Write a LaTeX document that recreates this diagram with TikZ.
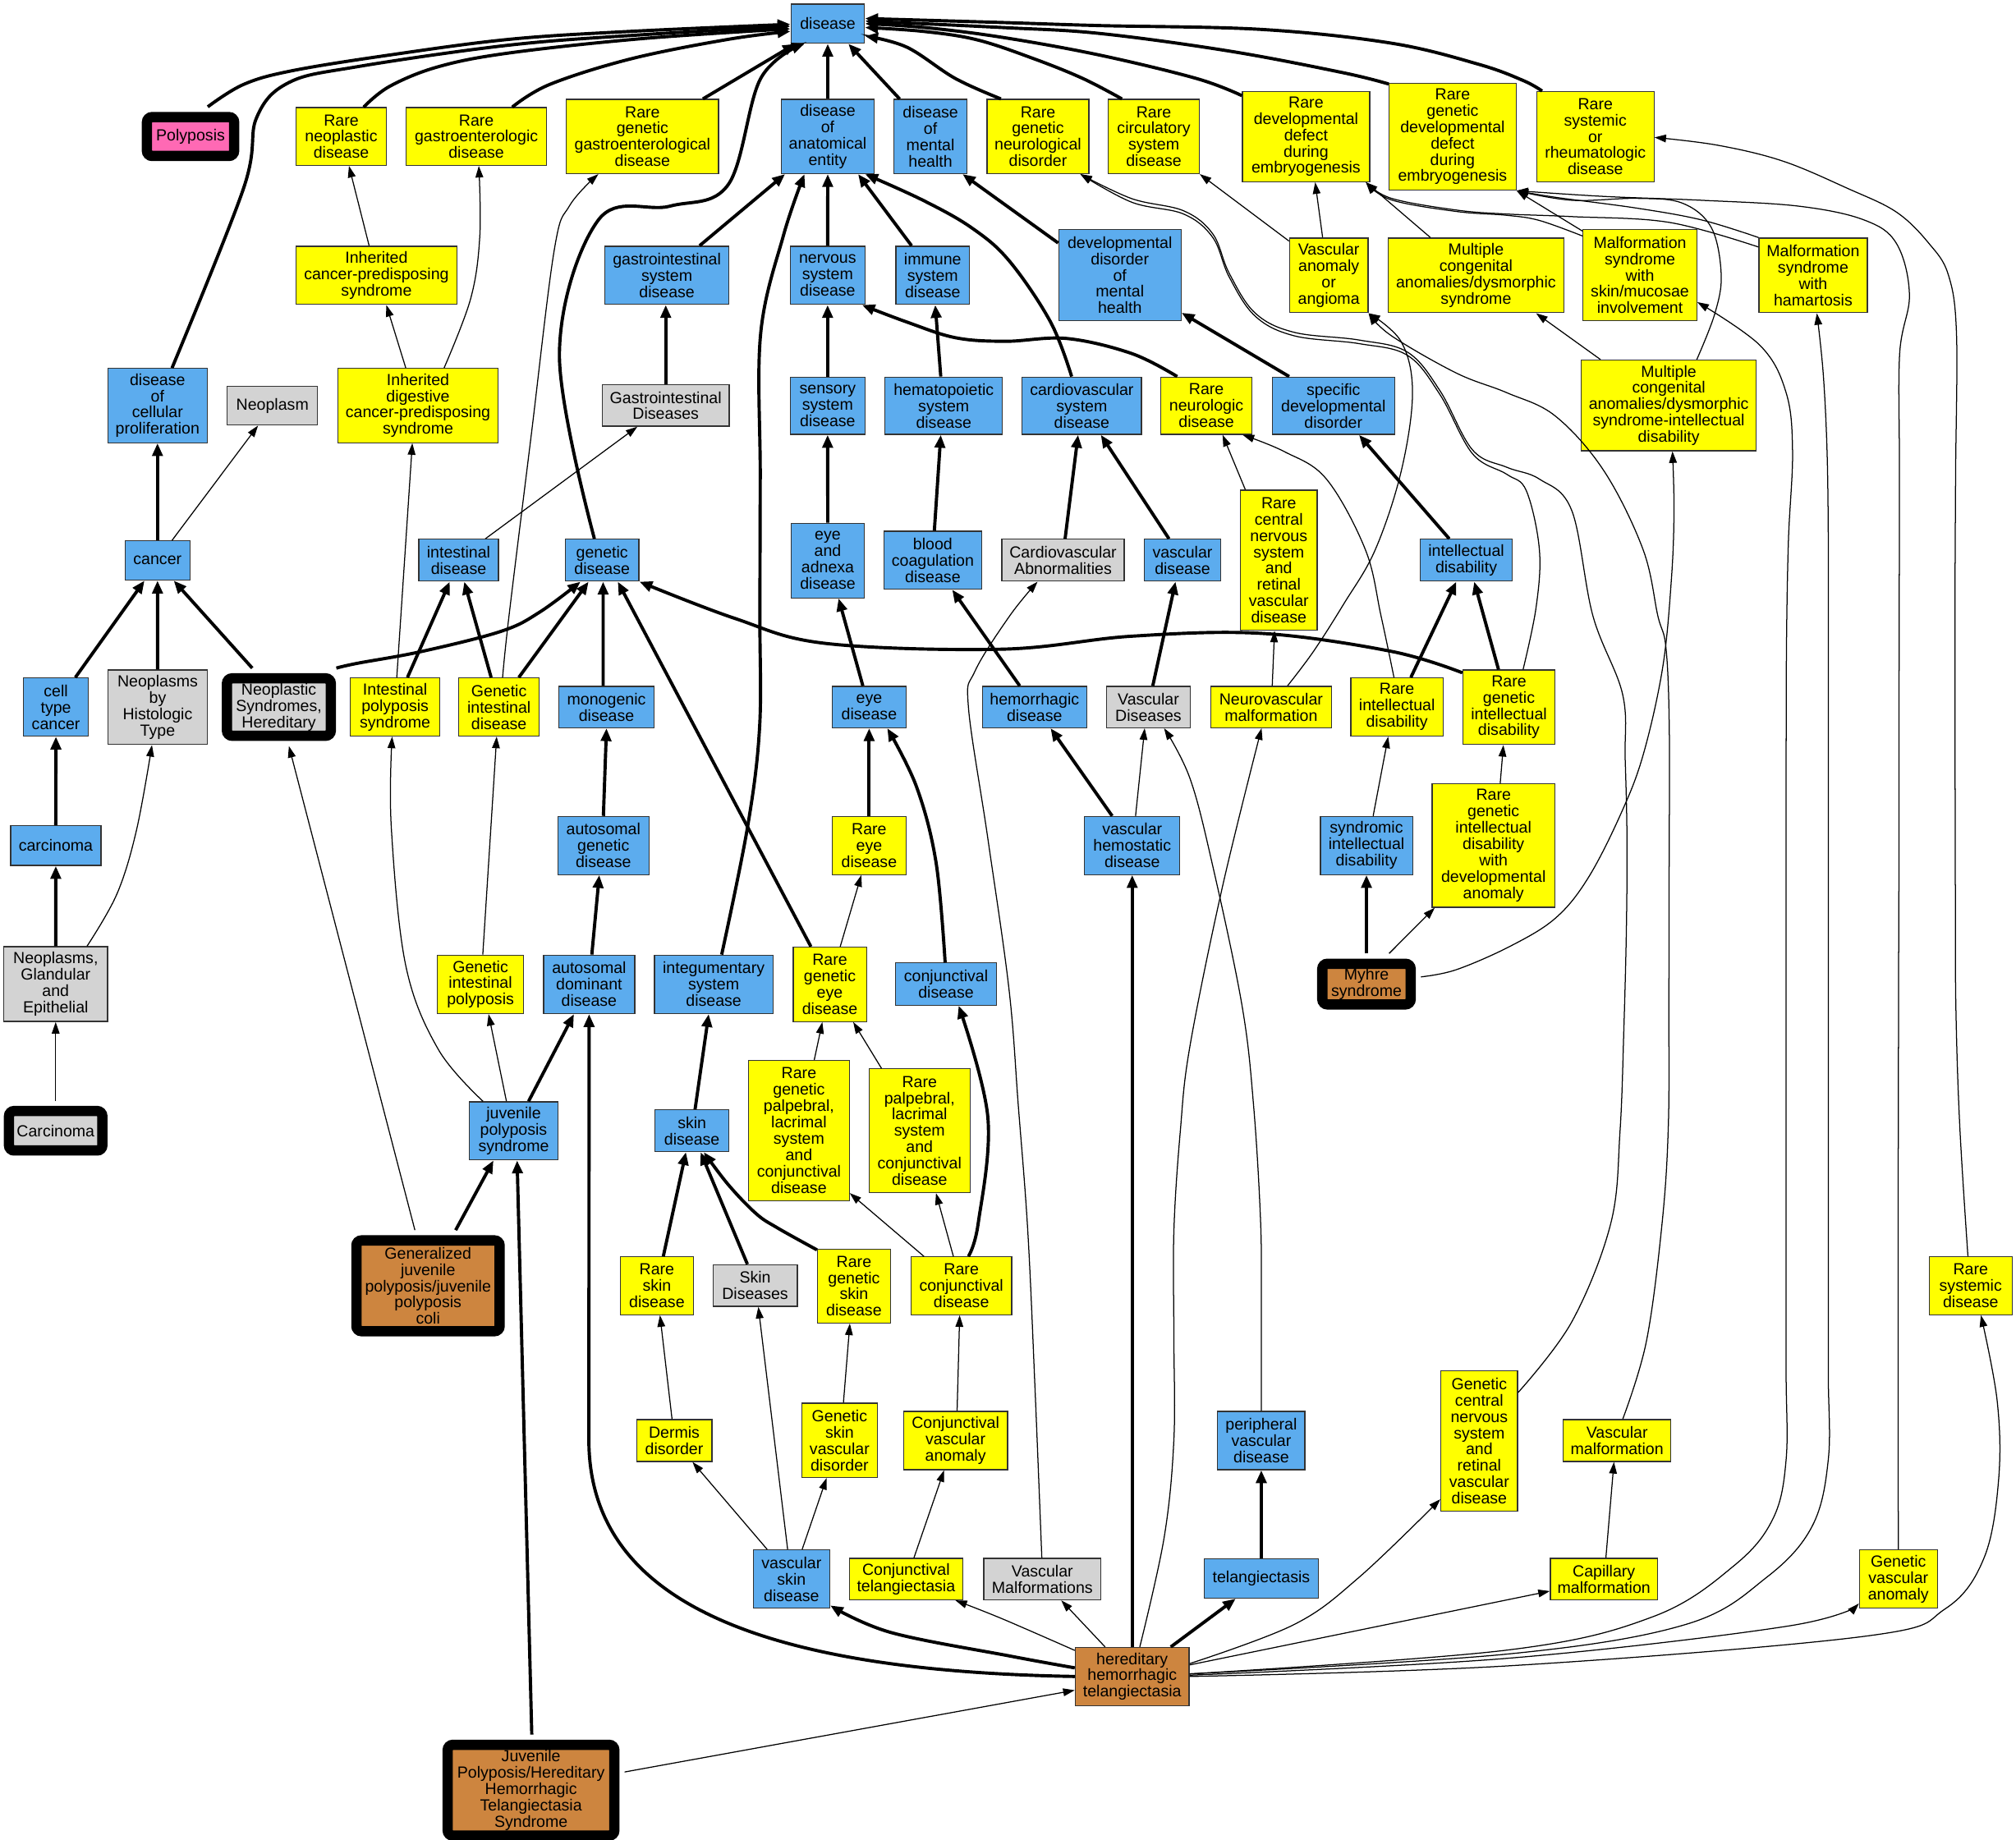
\documentclass[tikz,border=0pt]{standalone}
\usepackage{fontspec}
\setmainfont{Liberation Sans}
\usetikzlibrary{arrows.meta}
\definecolor{nodeblue}{RGB}{92,172,238}
\definecolor{nodeyellow}{RGB}{255,255,0}
\definecolor{nodegray}{RGB}{211,211,211}
\definecolor{nodepink}{RGB}{255,105,180}
\definecolor{nodebrown}{RGB}{205,133,63}
\newcommand\boxfont{\fontsize{12.5}{12.7}\selectfont}
% style, name, centre, width, height, label
\newcommand\boxnode[6]{\node[#1, minimum width=#4pt, minimum height=#5pt] (#2) at (#3) {#6};}
\tikzset{
  plainbox/.style={draw=black!80, line width=0.8pt, inner sep=0pt, align=center, font=\boxfont},
  bluebox/.style={plainbox, fill=nodeblue},
  yellowbox/.style={plainbox, fill=nodeyellow},
  graybox/.style={plainbox, fill=nodegray},
  brownbox/.style={plainbox, fill=nodebrown},
  framedbox/.style={draw=black, line width=8pt, rounded corners=4pt, inner sep=0pt, align=center, font=\boxfont},
  heavy/.style={line width=2.5pt, draw=black, -{Triangle[length=10pt,width=8pt]}},
  light/.style={line width=0.8pt, draw=black, -{Triangle[length=9pt,width=6pt]}}
}
\begin{document}
\begin{tikzpicture}[x=1pt,y=-1pt]
\fill[white] (0,0) rectangle (1568,1431);
\useasboundingbox (0,0) rectangle (1568,1431);

% ---------- blue ontology classes ----------
\boxnode{bluebox}{disease}{643.8,18.4}{57.3}{30.5}{disease}
\boxnode{bluebox}{dae}{643.8,106.2}{72.5}{57.7}{disease\\of\\anatomical\\entity}
\boxnode{bluebox}{dmh}{723.7,106.2}{57.1}{57.7}{disease\\of\\mental\\health}
\boxnode{bluebox}{gsd}{518.7,214.2}{96.5}{45.3}{gastrointestinal\\system\\disease}
\boxnode{bluebox}{nsd}{643.7,214.2}{58.1}{45.3}{nervous\\system\\disease}
\boxnode{bluebox}{isd}{725.4,214.2}{57.3}{45.3}{immune\\system\\disease}
\boxnode{bluebox}{ddmh}{871,214}{95.2}{70.6}{developmental\\disorder\\of\\mental\\health}
\boxnode{bluebox}{dcp}{122.5,315.5}{77.3}{57.7}{disease\\of\\cellular\\proliferation}
\boxnode{bluebox}{ssd}{643.7,315.6}{58.1}{44.6}{sensory\\system\\disease}
\boxnode{bluebox}{hsd}{734,315.6}{91.4}{44.6}{hematopoietic\\system\\disease}
\boxnode{bluebox}{cvsd}{841.4,315.6}{92.9}{44.6}{cardiovascular\\system\\disease}
\boxnode{bluebox}{sdd}{1037.1,315.6}{95.2}{44.6}{specific\\developmental\\disorder}
\boxnode{bluebox}{cancer}{122.5,436}{50.5}{30.5}{cancer}
\boxnode{bluebox}{intd}{356.7,435.8}{61.9}{32.6}{intestinal\\disease}
\boxnode{bluebox}{gend}{468.3,435.8}{57.3}{32.6}{genetic\\disease}
\boxnode{bluebox}{ead}{643.8,436}{57.3}{58.1}{eye\\and\\adnexa\\disease}
\boxnode{bluebox}{bcd}{725.5,435.8}{75.7}{45}{blood\\coagulation\\disease}
\boxnode{bluebox}{vasd}{919.7,435.8}{59.8}{32.6}{vascular\\disease}
\boxnode{bluebox}{intdis}{1140.4,435.8}{71.9}{32.6}{intellectual\\disability}
\boxnode{bluebox}{ctc}{43.5,550}{50.5}{45.2}{cell\\type\\cancer}
\boxnode{bluebox}{mono}{471.7,550}{74.3}{32.2}{monogenic\\disease}
\boxnode{bluebox}{eyed}{676,550}{57.5}{32.2}{eye\\disease}
\boxnode{bluebox}{hemd}{804.6,550}{81}{32.2}{hemorrhagic\\disease}
\boxnode{bluebox}{carc}{43.4,657.8}{70.2}{30.9}{carcinoma}
\boxnode{bluebox}{agd}{469.3,657.7}{70.9}{45.2}{autosomal\\genetic\\disease}
\boxnode{bluebox}{vhd}{880.6,657.7}{74}{45.2}{vascular\\hemostatic\\disease}
\boxnode{bluebox}{sid}{1062.8,657.7}{71.7}{45.2}{syndromic\\intellectual\\disability}
\boxnode{bluebox}{add}{458.2,765.7}{70.9}{45.5}{autosomal\\dominant\\disease}
\boxnode{bluebox}{integ}{555.1,765.7}{92.2}{45.5}{integumentary\\system\\disease}
\boxnode{bluebox}{conjd}{735.8,765.5}{78.8}{32.8}{conjunctival\\disease}
\boxnode{bluebox}{jps}{399.5,879.7}{69.1}{45.2}{juvenile\\polyposis\\syndrome}
\boxnode{bluebox}{skind}{538.2,879.6}{57.4}{32.5}{skin\\disease}
\boxnode{bluebox}{pvd}{981,1120.6}{67.9}{45.3}{peripheral\\vascular\\disease}
\boxnode{bluebox}{vsd}{615.6,1228.3}{59.6}{45.3}{vascular\\skin\\disease}
\boxnode{bluebox}{telang}{981,1227.9}{88.9}{30.6}{telangiectasis}

% ---------- yellow classes ----------
\boxnode{yellowbox}{rnd}{265.4,106.2}{70.2}{44.9}{Rare\\neoplastic\\disease}
\boxnode{yellowbox}{rgd}{370.5,106.2}{109.1}{44.9}{Rare\\gastroenterologic\\disease}
\boxnode{yellowbox}{rggd}{499.7,106.2}{118.2}{57.7}{Rare\\genetic\\gastroenterological\\disease}
\boxnode{yellowbox}{rgnd}{807.3,106.2}{79.3}{57.7}{Rare\\genetic\\neurological\\disorder}
\boxnode{yellowbox}{rcsd}{897.4,106.2}{70.7}{57.7}{Rare\\circulatory\\system\\disease}
\boxnode{yellowbox}{rddde}{1015.8,106.3}{99}{70.2}{Rare\\developmental\\defect\\during\\embryogenesis}
\boxnode{yellowbox}{rgddde}{1129.8,106.4}{98.7}{83.1}{Rare\\genetic\\developmental\\defect\\during\\embryogenesis}
\boxnode{yellowbox}{rsrd}{1240.8,106.3}{91.2}{70.2}{Rare\\systemic\\or\\rheumatologic\\disease}
\boxnode{yellowbox}{icps}{292.8,214.2}{125}{45.3}{Inherited\\cancer-predisposing\\syndrome}
\boxnode{yellowbox}{vaa}{1033.5,214.2}{61}{58.1}{Vascular\\anomaly\\or\\angioma}
\boxnode{yellowbox}{mcads}{1148,214.2}{136.5}{58.1}{Multiple\\congenital\\anomalies/dysmorphic\\syndrome}
\boxnode{yellowbox}{mssm}{1275.5,214}{88.4}{70.6}{Malformation\\syndrome\\with\\skin/mucosae\\involvement}
\boxnode{yellowbox}{msh}{1410.2,214.2}{84.3}{58.1}{Malformation\\syndrome\\with\\hamartosis}
\boxnode{yellowbox}{idcps}{325.1,315.5}{125}{57.7}{Inherited\\digestive\\cancer-predisposing\\syndrome}
\boxnode{yellowbox}{rneud}{938.3,315.6}{70.7}{44.6}{Rare\\neurologic\\disease}
\boxnode{yellowbox}{mcadsid}{1297.9,315.4}{136.1}{70.6}{Multiple\\congenital\\anomalies/dysmorphic\\syndrome-intellectual\\disability}
\boxnode{yellowbox}{rcns}{994.6,435.8}{59.6}{108.9}{Rare\\central\\nervous\\system\\and\\retinal\\vascular\\disease}
\boxnode{yellowbox}{ips}{307.3,550}{69.7}{45.2}{Intestinal\\polyposis\\syndrome}
\boxnode{yellowbox}{gid}{388.1,550}{62.6}{45.2}{Genetic\\intestinal\\disease}
\boxnode{yellowbox}{nvm}{988.6,550}{93.9}{32.2}{Neurovascular\\malformation}
\boxnode{yellowbox}{rid}{1086.5,550}{71.8}{45.2}{Rare\\intellectual\\disability}
\boxnode{yellowbox}{rgid}{1173.6,550.2}{71.6}{57.9}{Rare\\genetic\\intellectual\\disability}
\boxnode{yellowbox}{red}{676,657.7}{57.5}{45.2}{Rare\\eye\\disease}
\boxnode{yellowbox}{rgidda}{1161.6,657.8}{95.6}{95.9}{Rare\\genetic\\intellectual\\disability\\with\\developmental\\anomaly}
\boxnode{yellowbox}{gip}{373.7,765.7}{67.2}{45.5}{Genetic\\intestinal\\polyposis}
\boxnode{yellowbox}{rged}{645.4,765.7}{57}{57.9}{Rare\\genetic\\eye\\disease}
\boxnode{yellowbox}{rgplc}{621.4,879.4}{78.2}{109}{Rare\\genetic\\palpebral,\\lacrimal\\system\\and\\conjunctival\\disease}
\boxnode{yellowbox}{rplc}{715.2,879.6}{78.6}{96.3}{Rare\\palpebral,\\lacrimal\\system\\and\\conjunctival\\disease}
\boxnode{yellowbox}{rskin}{510.9,1000.2}{56.8}{45}{Rare\\skin\\disease}
\boxnode{yellowbox}{rgskin}{664.2,1000.4}{56.8}{57.5}{Rare\\genetic\\skin\\disease}
\boxnode{yellowbox}{rconj}{747.7,1000.2}{78.3}{45}{Rare\\conjunctival\\disease}
\boxnode{yellowbox}{rsd}{1532.7,1000.2}{64.4}{45}{Rare\\systemic\\disease}
\boxnode{yellowbox}{dermis}{524.4,1120.6}{58.6}{32.5}{Dermis\\disorder}
\boxnode{yellowbox}{gsvd}{653,1120.4}{59.1}{57.8}{Genetic\\skin\\vascular\\disorder}
\boxnode{yellowbox}{cva}{743.2,1120.6}{80.9}{45.3}{Conjunctival\\vascular\\anomaly}
\boxnode{yellowbox}{gcns}{1150.5,1120.9}{59.7}{108.9}{Genetic\\central\\nervous\\system\\and\\retinal\\vascular\\disease}
\boxnode{yellowbox}{vm}{1257.7,1120.6}{83.6}{32.5}{Vascular\\malformation}
\boxnode{yellowbox}{ctel}{704.7,1228.4}{88.4}{32.2}{Conjunctival\\telangiectasia}
\boxnode{yellowbox}{capm}{1247.5,1228.4}{83.4}{32.2}{Capillary\\malformation}
\boxnode{yellowbox}{gva}{1476.5,1228.3}{60.6}{45.3}{Genetic\\vascular\\anomaly}

% ---------- grey classes ----------
\boxnode{graybox}{neoplasm}{211.9,315.5}{70.2}{30.3}{Neoplasm}
\boxnode{graybox}{gidis}{517.8,315.5}{98.7}{32.1}{Gastrointestinal\\Diseases}
\boxnode{graybox}{cvab}{826.8,435.8}{95.2}{32.6}{Cardiovascular\\Abnormalities}
\boxnode{graybox}{nbht}{122.6,550.2}{77}{57.9}{Neoplasms\\by\\Histologic\\Type}
\boxnode{graybox}{vdis}{893.2,550}{65.4}{32.2}{Vascular\\Diseases}
\boxnode{graybox}{nge}{43.3,765.5}{80.6}{58.2}{Neoplasms,\\Glandular\\and\\Epithelial}
\boxnode{graybox}{skindis}{587.3,1000}{65.6}{32.4}{Skin\\Diseases}
\boxnode{graybox}{vmal}{810.7,1228.4}{91.1}{32.2}{Vascular\\Malformations}

% ---------- brown class ----------
\boxnode{brownbox}{hht}{880.6,1304.1}{88.6}{45.2}{hereditary\\hemorrhagic\\telangiectasia}

% ---------- heavily framed entries ----------
\boxnode{framedbox, fill=nodepink}{polyposis}{148.2,106.2}{67.8}{30.2}{Polyposis}
\boxnode{framedbox, fill=nodegray}{nsh}{216.9,550}{80.8}{44.6}{Neoplastic\\Syndromes,\\Hereditary}
\boxnode{framedbox, fill=nodegray}{carcin}{43.3,879.6}{72.6}{30.7}{Carcinoma}
\boxnode{framedbox, fill=nodebrown}{myhre}{1062.8,765.5}{68.7}{31.6}{Myhre\\syndrome}
\boxnode{framedbox, fill=nodebrown}{gjp}{332.9,1000.2}{111.4}{70.6}{Generalized\\juvenile\\polyposis/juvenile\\polyposis\\coli}
\boxnode{framedbox, fill=nodebrown}{jphht}{413,1392.6}{129.6}{70.6}{Juvenile\\Polyposis/Hereditary\\Hemorrhagic\\Telangiectasia\\Syndrome}

% ---------- edges into "disease" ----------
\draw[heavy] plot[smooth,tension=0.6] coordinates {([xshift=13.4pt,yshift=4pt]polyposis.north) (189.4,65.7) (227.3,55) (303,42.8) (396,30.6) (490.6,24.4) ([yshift=-0.5pt]disease.west)};
\draw[heavy] plot[smooth,tension=0.6] coordinates {([xshift=11.3pt]dcp.north) (189.4,146.6) (199.5,91.7) (224.7,64.2) (277.8,51.9) (396,35.1) (500,27) ([yshift=-2pt]disease.west)};
\draw[heavy] plot[smooth,tension=0.6] coordinates {([xshift=17.4pt]rnd.north) (303,67.2) (340.9,51.9) (396,41.2) (500,30) ([yshift=-4pt]disease.west)};
\draw[heavy] plot[smooth,tension=0.6] coordinates {([xshift=27.9pt]rgd.north) (427.5,65.7) (490.6,45.8) (566.4,30.6) ([yshift=-6pt]disease.west)};
\draw[heavy] ([xshift=47pt]rggd.north) -- ([xshift=4pt]disease.south west);
\draw[heavy] plot[smooth,tension=0.6] coordinates {([xshift=-6pt]gend.north) (435.1,275) (465.4,171.1) (520.9,160.4) (566.4,143.6) (591.6,61.1) ([xshift=-18pt]disease.south)};
\draw[heavy] (dae.north) -- (disease.south);
\draw[heavy] ([xshift=-24pt]dmh.north) -- ([xshift=16pt]disease.south);
\draw[heavy] plot[smooth,tension=0.6] coordinates {([xshift=-28.8pt]rgnd.north) (743.1,61.1) (705.3,36.7) ([yshift=-9.7pt]disease.east)};
\draw[heavy] plot[smooth,tension=0.6] coordinates {([xshift=-24.8pt]rcsd.north) (842.3,61.1) (804.4,45.8) (760,31) (717.9,24.4) ([yshift=-3pt]disease.east)};
\draw[heavy] plot[smooth,tension=0.6] coordinates {([yshift=-3.6pt]rddde.north west) (930.7,61.1) (855,42.8) (779.2,29) (720,21.5) (disease.east)};
\draw[heavy] plot[smooth,tension=0.6] coordinates {([yshift=-0.9pt]rgddde.north west) (1044.3,56.5) (955.9,39.7) (855,26) (779.2,21.4) ([yshift=2pt]disease.east)};
\draw[heavy] plot[smooth,tension=0.6] coordinates {([xshift=4.6pt]rsrd.north west) (1184.6,62.6) (1150,50) (1082.2,33.6) (981.2,22.9) (855,19.9) (779.2,17.5) ([yshift=4pt]disease.east)};

% ---------- anatomical / mental health branches ----------
\draw[heavy] ([xshift=25.4pt]gsd.north) -- ([xshift=-33.2pt]dae.south);
\draw[heavy] (nsd.north) -- (dae.south);
\draw[heavy] ([xshift=-16.4pt]isd.north) -- ([xshift=23.6pt]dae.south);
\draw[heavy] plot[smooth,tension=0.6] coordinates {([xshift=6.2pt]integ.north) (581.5,642.9) (590.8,565.5) (591,479) (591.3,370) (591.6,259.7) (609.3,183.3) ([xshift=-18.1pt]dae.south)};
\draw[heavy] plot[smooth,tension=0.6] coordinates {([xshift=-7.9pt]cvsd.north) (817.1,250.5) (785,203) (755.7,177.2) (717.9,155.8) ([xshift=-7.6pt]dae.south east)};
\draw[heavy] ([yshift=-10.7pt]ddmh.north west) -- ([xshift=-4pt]dmh.south east);
\draw[heavy] ([xshift=-34.4pt]sdd.north) -- ([yshift=6.4pt]ddmh.south east);

% ---------- neoplasm / gastro side ----------
\draw[light] ([xshift=-5.7pt]icps.north) -- ([xshift=6pt]rnd.south);
\draw[light] plot[smooth,tension=0.6] coordinates {([xshift=20.3pt]idcps.north) (366.1,232.2) (373.2,183.3) ([xshift=1.9pt]rgd.south)};
\draw[light] ([xshift=-9.5pt]idcps.north) -- ([xshift=7.7pt]icps.south);
\draw[light] ([xshift=1.3pt]ips.north) -- ([xshift=-4.4pt]idcps.south);
\draw[light] plot[smooth,tension=0.6] coordinates {([xshift=2.8pt]gid.north) (395.9,479) (413,340) (431,195) (443,160) ([xshift=-34.3pt]rggd.south)};
\draw[light] ([xshift=11.3pt]cancer.north) -- ([xshift=-11.2pt]neoplasm.south);
\draw[heavy] (cancer.north) -- (dcp.south);
\draw[heavy] (gidis.north) -- ([xshift=-0.9pt]gsd.south);
\draw[light] ([xshift=20.8pt]intd.north) -- ([xshift=-22.1pt]gidis.south);
\draw[heavy] ([xshift=15.1pt]ctc.north) -- ([xshift=-10.1pt]cancer.south);
\draw[heavy] (nbht.north) -- (cancer.south);
\draw[heavy] ([xshift=-20.7pt,yshift=4pt]nsh.north) -- ([xshift=12.6pt]cancer.south);
\draw[heavy] ([xshift=9.6pt]ips.north) -- ([xshift=-6.9pt]intd.south);
\draw[heavy] ([xshift=-6.1pt]gid.north) -- ([xshift=4.4pt]intd.south);

% ---------- into genetic disease ----------
\draw[heavy] plot[smooth,tension=0.6] coordinates {([xshift=0.3pt,yshift=4pt]nsh.north east) (277.8,516) (328.3,506.7) (390,491) (420,476) ([xshift=-16.8pt]gend.south)};
\draw[heavy] ([xshift=15.4pt]gid.north) -- ([xshift=-10.5pt]gend.south);
\draw[heavy] ([xshift=-2.6pt]mono.north) -- ([xshift=0.8pt]gend.south);
\draw[heavy] ([xshift=-14.7pt]rged.north) -- ([xshift=12.2pt]gend.south);
\draw[heavy] plot[smooth,tension=0.6] coordinates {([yshift=-2.5pt]rgid.north west) (1082.2,506.7) (981.2,492.7) (880.2,494.9) (779.2,505) (642.1,500.5) (571.4,481) (gend.south east)};
\draw[heavy] (agd.north) -- (mono.south);
\draw[heavy] ([xshift=2.1pt]add.north) -- ([xshift=-3.2pt]agd.south);
\draw[heavy] ([xshift=11.6pt]jps.north) -- ([xshift=-11.8pt]add.south);
\draw[heavy] (hht.west) .. controls (600,1300) and (458,1250) .. (458,1120) -- (add.south);

% ---------- polyposis chain ----------
\draw[light] ([xshift=-5.6pt]jps.north) -- ([xshift=6.3pt]gip.south);
\draw[light] plot[smooth,tension=0.6] coordinates {([xshift=-23.8pt]jps.north) (340.9,816.3) (315.6,751.2) (304.3,642.9) ([xshift=-2.3pt]ips.south)};
\draw[light] ([xshift=1.8pt]gip.north) -- ([xshift=-1.8pt]gid.south);
\draw[heavy] ([xshift=21.5pt,yshift=4pt]gjp.north) -- ([xshift=-15.7pt]jps.south);
\draw[heavy] ([xshift=0.6pt,yshift=4pt]jphht.north) -- ([xshift=2.7pt]jps.south);
\draw[light] ([xshift=-10.2pt,yshift=4pt]gjp.north) -- ([xshift=7.8pt,yshift=-4pt]nsh.south);

% ---------- carcinoma chain ----------
\draw[heavy] (nge.north) -- (carc.south);
\draw[heavy] (carc.north) -- (ctc.south);
\draw[light] plot[smooth,tension=0.6] coordinates {([xshift=24.4pt]nge.north) (90.9,695.5) (106.1,646) ([xshift=-4.4pt]nbht.south)};
\draw[light] ([yshift=4pt]carcin.north) -- (nge.south);

% ---------- eye branch ----------
\draw[heavy] (ssd.north) -- (nsd.south);
\draw[heavy] (ead.north) -- (ssd.south);
\draw[heavy] ([xshift=-4.9pt]eyed.north) -- ([xshift=8.4pt]ead.south);
\draw[heavy] (red.north) -- (eyed.south);
\draw[heavy] plot[smooth,tension=0.6] coordinates {([xshift=-0.7pt]conjd.north) (728,670.7) (712.8,611.9) ([xshift=14.1pt]eyed.south)};
\draw[light] ([xshift=8.1pt]rged.north) -- ([xshift=-6.1pt]red.south);
\draw[light] ([xshift=11.9pt]rgplc.north) -- ([xshift=-5.8pt]rged.south);
\draw[light] ([xshift=-29.6pt]rplc.north) -- ([xshift=18.2pt]rged.south);
\draw[heavy] plot[smooth,tension=0.6] coordinates {([xshift=5.5pt]rconj.north) (760.8,951.7) (768.3,868.9) ([xshift=9.8pt]conjd.south)};
\draw[light] ([xshift=-6.2pt]rconj.north) -- ([xshift=12.8pt]rplc.south);
\draw[light] ([xshift=-29.1pt]rconj.north) -- ([yshift=6.2pt]rgplc.south east);

% ---------- skin branch ----------
\draw[heavy] ([xshift=2.4pt]skind.north) -- ([xshift=-3.9pt]integ.south);
\draw[heavy] ([xshift=5pt]rskin.north) -- ([xshift=-4.7pt]skind.south);
\draw[heavy] ([xshift=-6pt]skindis.north) -- ([xshift=6.7pt]skind.south);
\draw[heavy] plot[smooth,tension=0.6] coordinates {([yshift=-1pt]rgskin.north west) (604.4,955) (588,944) (566.4,921.5) ([xshift=9.2pt]skind.south)};
\draw[light] ([xshift=-1.7pt]dermis.north) -- ([xshift=2.4pt]rskin.south);
\draw[light] ([xshift=-18.9pt]vsd.north) -- ([xshift=14.2pt]dermis.south);
\draw[light] ([xshift=-3pt]vsd.north) -- ([xshift=2.5pt]skindis.south);
\draw[light] ([xshift=8.3pt]vsd.north) -- ([xshift=-10.1pt]gsvd.south);
\draw[light] ([xshift=3pt]gsvd.north) -- ([xshift=-3.2pt]rgskin.south);
\draw[light] ([xshift=1.2pt]cva.north) -- ([xshift=-1.3pt]rconj.south);
\draw[light] ([xshift=6.1pt]ctel.north) -- ([xshift=-8.9pt]cva.south);

% ---------- blood / vascular branch ----------
\draw[heavy] ([xshift=-2.3pt]hsd.north) -- ([xshift=2pt]isd.south);
\draw[heavy] ([xshift=1.2pt]bcd.north) -- ([xshift=-2.3pt]hsd.south);
\draw[heavy] ([xshift=-11.5pt]hemd.north) -- ([xshift=15.1pt]bcd.south);
\draw[heavy] ([xshift=-15.6pt]vhd.north) -- ([xshift=12.5pt]hemd.south);
\draw[light] ([xshift=2.6pt]vhd.north) -- ([xshift=-2.9pt]vdis.south);
\draw[heavy] ([xshift=1.6pt]cvab.north) -- ([xshift=-2.9pt]cvsd.south);
\draw[heavy] ([xshift=-10.5pt]vasd.north) -- ([xshift=14.8pt]cvsd.south);
\draw[heavy] ([xshift=3.4pt]vdis.north) -- ([xshift=-5.4pt]vasd.south);
\draw[light] plot[smooth,tension=0.6] coordinates {([xshift=-0.4pt]vmal.north) (805,1080) (799.4,958) (792,860) (784.8,769.8) (768.3,652.2) (753.2,550) (758.3,522.1) (785.5,478.8) ([xshift=-19.8pt]cvab.south)};
\draw[light] plot[smooth,tension=0.6] coordinates {(pvd.north) (981,1020) (980.5,951.7) (975,860) (966,782.2) (943.3,673.9) (925.6,605.7) ([xshift=12.2pt]vdis.south)};
\draw[heavy] (telang.north) -- (pvd.south);

% ---------- neurological branch ----------
\draw[heavy] plot[smooth,tension=0.6] coordinates {([xshift=-22.7pt]rneud.north) (880.2,275) (829.7,263.3) (782,265.5) (743.1,262.7) (705.3,250.5) ([xshift=-2.7pt]nsd.south east)};
\draw[light] ([xshift=-26pt]rcns.north) -- ([xshift=12.6pt]rneud.south);
\draw[light] ([xshift=0.9pt]nvm.north) -- ([xshift=-3.3pt]rcns.south);
\draw[light] plot[smooth,tension=0.6] coordinates {([xshift=-2.3pt]rid.north) (1074.1,479) (1062,427.7) (1031.7,372.7) (998.9,351.3) ([xshift=-7.6pt]rneud.south east)};
\draw[light] plot[smooth,tension=0.6] coordinates {([xshift=12.8pt]nvm.north) (1021.6,506.7) (1045,470) (1069.6,427.7) (1089.8,366.6) (1098.6,305.5) (1089.8,265.8) (vaa.south east)};
\draw[light] plot[smooth,tension=0.6] coordinates {([xshift=11pt]rgid.north) (1194.7,472.6) (1197.3,427.7) (1187.2,381.9) (1172,369) (1145.3,353) (1120,307) (1094.8,276.5) (1057,267.3) (1006.5,261.2) (976.2,245.9) (956,215.4) (943.3,184.8) (920.6,166.5) (880.2,157.3) ([xshift=-7.1pt]rgnd.south east)};
\draw[light] plot[smooth,tension=0.6] coordinates {([yshift=37.7pt]gcns.east) (1222.5,1028.2) (1252.8,951.7) (1260,880) (1263,800) (1265,720) (1265.4,650) (1264,590) (1262,540) (1238.9,479) (1222.5,397.2) (1197.3,372.7) (1172,363.5) (1145.3,350) (1120,304) (1094.8,274) (1057,264.5) (1006.5,258.5) (976.2,243.5) (956,212.5) (943.3,182) (920.6,164) (880.2,154.5) ([xshift=-7.1pt]rgnd.south east)};

% ---------- intellectual disability branch ----------
\draw[heavy] ([xshift=10.8pt]rid.north) -- ([xshift=-7.7pt]intdis.south);
\draw[heavy] ([xshift=-8.1pt]rgid.north) -- ([xshift=6.2pt]intdis.south);
\draw[heavy] ([xshift=-13.2pt]intdis.north) -- ([xshift=19.9pt]sdd.south);
\draw[light] ([xshift=5.2pt]sid.north) -- ([xshift=-6.8pt]rid.south);
\draw[heavy] ([yshift=4pt]myhre.north) -- (sid.south);
\draw[light] ([xshift=17.6pt,yshift=4pt]myhre.north) -- ([xshift=2.5pt]rgidda.south west);
\draw[light] ([xshift=5.2pt]rgidda.north) -- ([xshift=-4.3pt]rgid.south);
\draw[light] plot[smooth,tension=0.6] coordinates {([xshift=4pt,yshift=5.6pt]myhre.east) (1132.7,754.3) (1175.1,735.8) (1209.9,714.1) (1235.1,683.1) (1260.4,633.6) (1278,587.2) (1293.2,519.1) (1300,450) (1302,397.2) ([xshift=2.9pt]mcadsid.south)};

% ---------- developmental defect branch ----------
\draw[light] ([yshift=-2.8pt]vaa.north west) -- (rcsd.south east);
\draw[light] ([xshift=-4.8pt]vaa.north) -- ([xshift=7.1pt]rddde.south);
\draw[light] plot[smooth,tension=0.6] coordinates {([xshift=4.4pt]vm.north) (1280.5,1043.5) (1292.7,951.7) (1297.6,875.1) (1298,780) (1298.2,680) (1298.3,565.5) (1295.7,503.6) (1289.4,479) (1278,427.7) (1247.7,366.6) (1209.9,323.8) (1172,305.5) (1132.7,290.2) (1082.2,261.2) (vaa.south east)};
\draw[light] ([xshift=-35.5pt]mcads.north) -- ([xshift=-3.3pt]rddde.south east);
\draw[light] ([xshift=15.4pt]mcadsid.north west) -- ([xshift=46.7pt]mcads.south);
\draw[light] plot[smooth,tension=0.6] coordinates {([xshift=21.8pt]mcadsid.north) (1333.6,244.4) (1338.7,213.9) (1331.1,177.2) (1308.4,158) (1273,154.3) (1222.5,155.8) (rgddde.south east)};
\draw[light] plot[smooth,tension=0.6] coordinates {(msh.north west) (1323.5,171.1) (1273,161.9) (1210,153.5) (rgddde.south east)};
\draw[light] plot[smooth,tension=0.6] coordinates {([yshift=-7.4pt]msh.north west) (1298.3,173) (1222.5,168.5) (1172,166.5) (1132.7,163.4) (1082.2,154.3) ([xshift=-3.3pt]rddde.south east)};
\draw[light] ([yshift=-1.5pt]mssm.north west) -- (rgddde.south east);
\draw[light] plot[smooth,tension=0.6] coordinates {([yshift=-5.3pt]mssm.north west) (1197.3,171.5) (1172,167.5) (1132.7,164.5) (1082.2,155.5) ([xshift=-3.3pt]rddde.south east)};
\draw[light] plot[smooth,tension=0.6] coordinates {(gva.north) (1476.3,1130) (1476.3,1040) (1476.3,951.7) (1476.5,850) (1476.7,750) (1477,650) (1477,550) (1477.2,450) (1477.3,360) (1477.5,275) (1485.1,229.1) (1475,189.4) (1449.8,171.1) (1399.2,160.4) (1323.5,155.8) (1247.7,152.8) (rgddde.south east)};
\draw[light] plot[smooth,tension=0.6] coordinates {([xshift=-2.1pt]rsd.north) (1524.2,875.1) (1521.2,782.2) (1520.8,690) (1520.6,590) (1520.5,479) (1521,370) (1521.7,259.7) (1515.4,213.9) (1500.3,189.4) (1475,165) (1437.1,146.6) (1386.6,125.3) (1336.1,113) ([yshift=-0.6pt]rsrd.east)};
\draw[light] ([xshift=1.5pt]capm.north) -- ([xshift=-2.4pt]vm.south);

% ---------- edges leaving hereditary hemorrhagic telangiectasia ----------
\draw[heavy] (hht.north) -- (vhd.south);
\draw[heavy] ([xshift=30pt]hht.north) -- ([xshift=-19.9pt]telang.south);
\draw[heavy] plot[smooth,tension=0.6] coordinates {([yshift=6.7pt]hht.west) (785.5,1288.2) (692.6,1269.8) ([yshift=2.5pt]vsd.south east)};
\draw[light] plot[smooth,tension=0.6] coordinates {([yshift=-2.7pt]hht.north west) (779.2,1259.1) ([xshift=38.4pt]ctel.south)};
\draw[light] ([xshift=-21.1pt]hht.north) -- ([xshift=14.7pt]vmal.south);
\draw[light] plot[smooth,tension=0.6] coordinates {([xshift=5.9pt]hht.north) (905.4,1196.2) (913,1120) (913,1040) (913,958) (918,880) (925.6,813.2) (950.9,689.3) ([xshift=-7.4pt]nvm.south)};
\draw[light] plot[smooth,tension=0.6] coordinates {([yshift=10pt]hht.east) (1006.5,1263.7) (1057,1227) ([yshift=9.5pt]gcns.south west)};
\draw[light] ([yshift=9pt]hht.east) -- ([yshift=-9.3pt]capm.west);
\draw[light] plot[smooth,tension=0.6] coordinates {([yshift=2pt]hht.east) (1172,1283.6) (1285.6,1257.6) (1348.8,1217.8) (1379.1,1181.1) (1389.2,1135.3) (1389.2,1070) (1389.2,990) (1389.2,900) (1389.2,800) (1389.2,700) (1389.2,600) (1389.5,500) (1391,420) (1394.2,351.3) (1389.2,305.5) (1369,268.8) ([yshift=-21pt]mssm.east)};
\draw[light] plot[smooth,tension=0.6] coordinates {([yshift=2pt]hht.east) (1172,1286.7) (1310.9,1263.7) (1374,1227) (1409.4,1187.3) (1422,1135.3) (1422,1070) (1422,990) (1422,900) (1422,800) (1422,700) (1422,600) (1422,500) (1422,420) (1421,350) (1418,290) ([xshift=2.9pt]msh.south)};
\draw[light] plot[smooth,tension=0.6] coordinates {([yshift=1pt]hht.east) (1172,1290) (1390,1265) ([yshift=4pt]gva.south west)};
\draw[light] plot[smooth,tension=0.6] coordinates {(hht.east) (1172,1295.9) (1449.8,1272.9) (1512.9,1251.5) (1543.2,1211.7) (1554.5,1150.5) (1553.3,1089.4) ([xshift=8pt]rsd.south)};
\draw[light] ([xshift=4pt,yshift=14.2pt]jphht.east) -- ([yshift=-10.7pt]hht.west);
\end{tikzpicture}
\end{document}
